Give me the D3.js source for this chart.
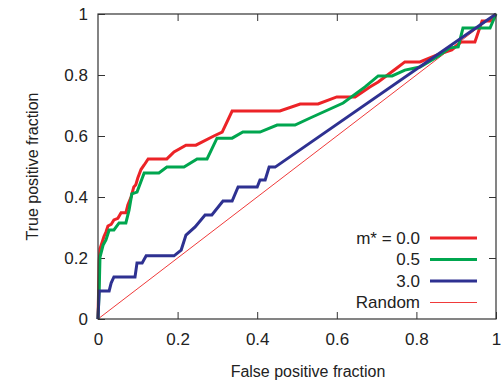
<!DOCTYPE html>
<html>
<head>
<meta charset="utf-8">
<script src="https://cdn.jsdelivr.net/npm/d3@7"></script>
<style>
  body { margin: 0; background: #fff; }
  text { font-family: "Liberation Sans", Arial, sans-serif; fill: #222; }
</style>
</head>
<body>
<svg id="chart" width="501" height="382"></svg>
<script>
// ROC curves, values
const red_pts = [[0,0],[0.003,0.19],[0.005,0.23],[0.01,0.25],[0.015,0.27],[0.02,0.285],[0.025,0.305],[0.033,0.31],[0.04,0.325],[0.05,0.33],[0.058,0.348],[0.07,0.348],[0.075,0.374],[0.083,0.40],[0.09,0.433],[0.095,0.44],[0.10,0.462],[0.108,0.49],[0.116,0.505],[0.126,0.525],[0.173,0.525],[0.191,0.548],[0.221,0.57],[0.246,0.57],[0.291,0.60],[0.312,0.613],[0.337,0.682],[0.457,0.682],[0.508,0.705],[0.553,0.705],[0.60,0.728],[0.646,0.728],[0.683,0.761],[0.704,0.777],[0.751,0.823],[0.771,0.843],[0.809,0.843],[0.852,0.866],[0.889,0.882],[0.912,0.908],[0.947,0.908],[0.965,0.977],[0.985,0.977],[1,1]];

const green_pts = [[0,0],[0.003,0.095],[0.005,0.203],[0.013,0.243],[0.02,0.259],[0.028,0.292],[0.04,0.292],[0.053,0.315],[0.07,0.315],[0.078,0.357],[0.085,0.41],[0.098,0.416],[0.116,0.479],[0.153,0.479],[0.173,0.498],[0.216,0.498],[0.249,0.525],[0.274,0.525],[0.299,0.593],[0.337,0.593],[0.364,0.613],[0.407,0.613],[0.45,0.636],[0.495,0.636],[0.533,0.659],[0.616,0.708],[0.671,0.761],[0.704,0.797],[0.739,0.797],[0.771,0.816],[0.809,0.826],[0.852,0.859],[0.884,0.889],[0.905,0.892],[0.917,0.954],[0.985,0.954],[1,1]];

const blue_pts = [[0,0],[0.003,0.092],[0.028,0.092],[0.033,0.118],[0.04,0.138],[0.093,0.138],[0.098,0.184],[0.111,0.184],[0.121,0.207],[0.191,0.207],[0.209,0.226],[0.221,0.275],[0.244,0.302],[0.269,0.341],[0.286,0.341],[0.314,0.387],[0.337,0.387],[0.352,0.433],[0.40,0.433],[0.407,0.456],[0.42,0.456],[0.43,0.498],[0.445,0.498],[1,1]];

const random_pts = [[0,0],[1,1]];

const series_names = ["m* = 0.0", "0.5", "3.0", "Random"];
const series_colors = ["#ec2327", "#00a64f", "#2e3191", "#f03a3a"];
const series_widths = [3, 3, 3, 1];
const tick_values = [0, 0.2, 0.4, 0.6, 0.8, 1];

const svg = d3.select("#chart");
const margin = {left: 98, top: 14, right: 5, bottom: 63};
const W = 501, H = 382;
const x = d3.scaleLinear().domain([0, 1]).range([margin.left, W - margin.right]);
const y = d3.scaleLinear().domain([0, 1]).range([H - margin.bottom, margin.top]);

const fmt = d => d === 0 ? "0" : d === 1 ? "1" : d3.format(".1f")(d);

// axes with inward ticks on all four sides
const axisColor = "#333";
function styleAxis(g) {
  g.select(".domain").remove();
  g.selectAll("line").attr("stroke", axisColor);
}
svg.append("g").attr("transform", `translate(0,${y(0)})`)
  .call(d3.axisBottom(x).tickValues(tick_values).tickFormat(fmt).tickSizeInner(-7).tickPadding(14))
  .call(styleAxis)
  .selectAll("text").style("font-size", "17px").attr("fill", "#222");
svg.append("g").attr("transform", `translate(0,${y(1)})`)
  .call(d3.axisTop(x).tickValues(tick_values.slice(1, -1)).tickFormat("").tickSizeInner(-7))
  .call(styleAxis);
svg.append("g").attr("transform", `translate(${x(0)},0)`)
  .call(d3.axisLeft(y).tickValues(tick_values).tickFormat(fmt).tickSizeInner(-7).tickPadding(10))
  .call(styleAxis)
  .selectAll("text").style("font-size", "17px").attr("fill", "#222");
svg.append("g").attr("transform", `translate(${x(1)},0)`)
  .call(d3.axisRight(y).tickValues(tick_values.slice(1, -1)).tickFormat("").tickSizeInner(-7))
  .call(styleAxis);

// curves
const line = d3.line().x(d => x(d[0])).y(d => y(d[1]));
const all_series = [red_pts, green_pts, blue_pts, random_pts];
// draw random first so it sits under the others
[3, 0, 1, 2].forEach(i => {
  svg.append("path")
    .attr("d", line(all_series[i]))
    .attr("fill", "none")
    .attr("stroke", series_colors[i])
    .attr("stroke-width", series_widths[i])
    .attr("stroke-linejoin", "miter");
});

// frame
svg.append("rect")
  .attr("x", x(0)).attr("y", y(1))
  .attr("width", x(1) - x(0)).attr("height", y(0) - y(1))
  .attr("fill", "none").attr("stroke", axisColor).attr("stroke-width", 1.2);

// legend
const legend = svg.append("g");
series_names.forEach((name, i) => {
  const ly = 238 + i * 21.5;
  legend.append("text")
    .attr("x", 420).attr("y", ly).attr("dy", "0.35em")
    .attr("text-anchor", "end").style("font-size", "17px")
    .text(name);
  legend.append("line")
    .attr("x1", 430).attr("x2", 477).attr("y1", ly).attr("y2", ly)
    .attr("stroke", series_colors[i]).attr("stroke-width", series_widths[i]);
});

// axis titles
svg.append("text")
  .attr("x", 308).attr("y", 377)
  .attr("text-anchor", "middle").style("font-size", "16px")
  .text("False positive fraction");
svg.append("text")
  .attr("transform", `translate(38,${(y(0) + y(1)) / 2}) rotate(-90)`)
  .attr("text-anchor", "middle").style("font-size", "16px")
  .text("True positive fraction");
</script>
</body>
</html>
